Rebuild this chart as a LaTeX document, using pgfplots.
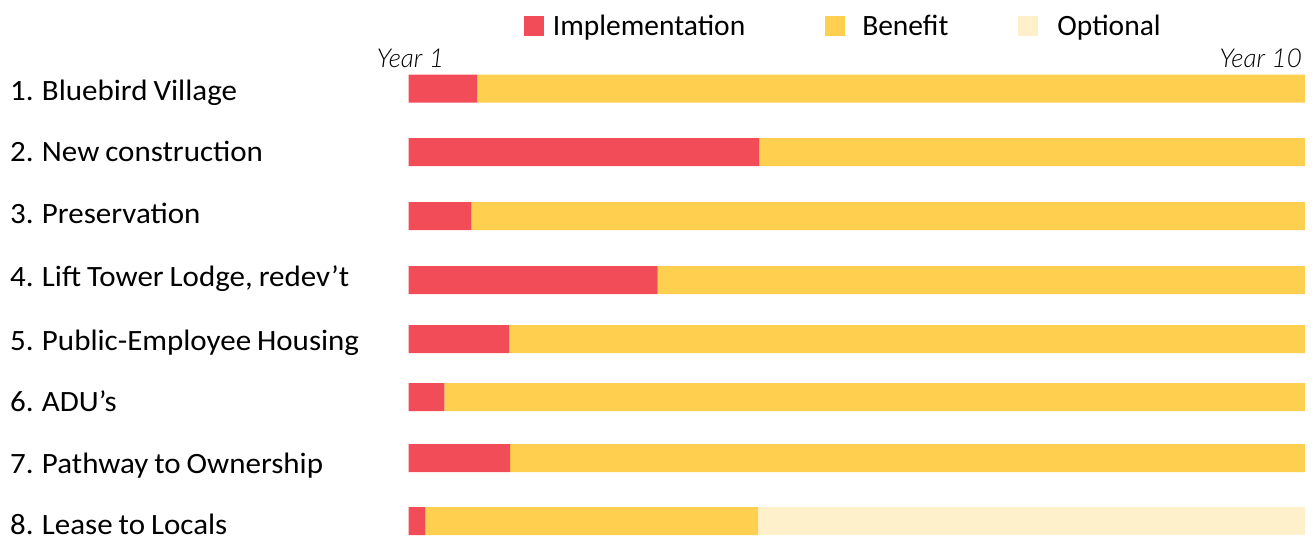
\documentclass[border=0pt]{standalone}
\usepackage{pgfplots}
\pgfplotsset{compat=1.18}
\usepackage{fontspec}
\setmainfont{Carlito}
\newfontfamily\labelfont{Carlito}[FakeStretch=1.05, WordSpace=0.85]
\newfontfamily\yearfont{Lato Light Italic}
\definecolor{impl}{HTML}{F24C58}
\definecolor{bene}{HTML}{FFCF4F}
\definecolor{opti}{HTML}{FFF0CC}
\begin{document}
\begin{tikzpicture}
\useasboundingbox (0,0) rectangle (1315bp,537bp);
\begin{axis}[
  at={(408.5bp,0bp)}, anchor=south west,
  scale only axis, width=896.5bp, height=480bp,
  xbar stacked, bar width=28bp,
  xmin=0, xmax=9, ymin=57, ymax=537, y dir=reverse,
  axis line style={draw=none}, tick style={draw=none},
  xtick=\empty,
  ytick={100,161,223,286,350,411,473,534},
  yticklabels={1. Bluebird Village,2. New construction,3. Preservation,4. Lift Tower Lodge{,} redev’t,5. Public-Employee Housing,6. ADU’s,7. Pathway to Ownership,8. Lease to Locals},
  yticklabel style={anchor=base west, inner sep=0pt, xshift=-398.5bp, font=\labelfont\fontsize{29.5bp}{33bp}\selectfont},
  clip=false,
  legend image code/.code={\fill (0bp,0bp) rectangle (20bp,20bp);},
  legend columns=3,
  legend style={draw=none, fill=none, inner sep=0pt, outer sep=0pt,
    at={(0.1288,1.0867)}, anchor=north west,
    cells={anchor=base west},
    nodes={inner sep=0pt, font=\fontsize{29.5bp}{33bp}\selectfont},
    /tikz/every odd column/.style={column sep=9bp},
    /tikz/every even column/.style={column sep=80bp}},
]
\addplot[fill=impl, draw=none] coordinates {(0.69,88.5) (3.52,152) (0.63,216) (2.50,280) (1.01,339) (0.36,397) (1.02,458) (0.17,521)};
\addlegendentry{Implementation}
\addplot[fill=bene, draw=none] coordinates {(8.31,88.5) (5.48,152) (8.37,216) (6.50,280) (7.99,339) (8.64,397) (7.98,458) (3.34,521)};
\addlegendentry{\hspace{8bp}Benefit\kern-10bp}
\addplot[fill=opti, draw=none] coordinates {(0,88.5) (0,152) (0,216) (0,280) (0,339) (0,397) (0,458) (5.49,521)};
\addlegendentry{\hspace{10bp}Optional}
\node[anchor=base, inner sep=0pt, font=\yearfont\fontsize{26bp}{30bp}\selectfont] at (axis cs:0.02,67) {Year 1};
\node[anchor=base east, inner sep=0pt, font=\yearfont\fontsize{26bp}{30bp}\selectfont] at (axis cs:8.97,67) {Year 10};
\end{axis}
\end{tikzpicture}
\end{document}
